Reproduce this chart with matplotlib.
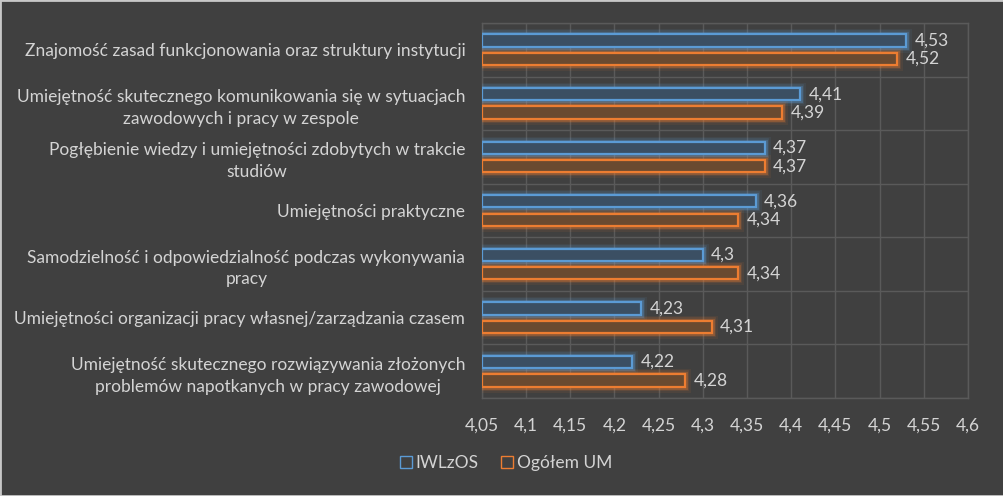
import numpy as np
import matplotlib.pyplot as plt
import matplotlib.patheffects as pe
from matplotlib.patches import Rectangle
from matplotlib.lines import Line2D

plt.rcParams['font.family'] = ['Lato', 'DejaVu Sans']

# data (top to bottom as in the reference)
categories = [
    "Znajomość zasad funkcjonowania oraz struktury instytucji",
    "Umiejętność skutecznego komunikowania się w sytuacjach\nzawodowych i pracy w zespole",
    "Pogłębienie wiedzy i umiejętności zdobytych w trakcie\nstudiów",
    "Umiejętności praktyczne",
    "Samodzielność i odpowiedzialność podczas wykonywania\npracy",
    "Umiejętności organizacji pracy własnej/zarządzania czasem",
    "Umiejętność skutecznego rozwiązywania złożonych\nproblemów napotkanych w pracy zawodowej",
]
iwlzos = [4.53, 4.41, 4.37, 4.36, 4.30, 4.23, 4.22]
ogolem = [4.52, 4.39, 4.37, 4.34, 4.34, 4.31, 4.28]
series_names = ["IWLzOS", "Ogółem UM"]
xticks = [4.05, 4.1, 4.15, 4.2, 4.25, 4.3, 4.35, 4.4, 4.45, 4.5, 4.55, 4.6]

bg = '#404040'
grid_c = '#5a5a5a'
txt_c = '#d4d4d4'
blue, blue_fill = '#5b9bd5', '#3b4f63'
orange, orange_fill = '#ed7d31', '#6a4a30'

fig = plt.figure(figsize=(10.04, 4.96), dpi=100, facecolor=bg)
ax = fig.add_axes([0.480, 0.1976, 0.484, 0.756], facecolor=bg)

n = len(categories)
y = np.arange(n)
h = 0.23
off = 0.172
x0 = 4.05


def glow(color):
    return [pe.Stroke(linewidth=8, foreground=color, alpha=0.08),
            pe.Stroke(linewidth=5.5, foreground=color, alpha=0.15),
            pe.Stroke(linewidth=3.5, foreground=color, alpha=0.30),
            pe.Normal()]


for vals, dy, ec, fc in [(iwlzos, -off, blue, blue_fill), (ogolem, off, orange, orange_fill)]:
    bars = ax.barh(y + dy, np.array(vals) - x0, left=x0, height=h,
                   facecolor=fc, edgecolor=ec, linewidth=1.6, zorder=3)
    for b, v in zip(bars, vals):
        b.set_path_effects(glow(ec))
        lbl = ('%g' % v).replace('.', ',')
        ax.annotate(lbl, (v, b.get_y() + b.get_height() / 2), xytext=(6, 0),
                    textcoords='offset points', va='center', ha='left',
                    color=txt_c, fontsize=12.5, zorder=4)

ax.set_xlim(4.05, 4.6)
ax.set_ylim(n - 0.5, -0.5)
ax.set_xticks(xticks)
ax.set_xticklabels([('%g' % t).replace('.', ',') for t in xticks], color=txt_c, fontsize=12.5)
ax.set_yticks(y)
ax.set_yticklabels(categories, color=txt_c, fontsize=12.5, multialignment='center',
                   linespacing=1.45)
ax.set_yticks(np.arange(n + 1) - 0.5, minor=True)
ax.tick_params(axis='both', which='both', length=0)
ax.tick_params(axis='x', pad=14)
ax.tick_params(axis='y', pad=12)
ax.grid(axis='x', which='major', color=grid_c, linewidth=1, zorder=0)
ax.grid(axis='y', which='minor', color=grid_c, linewidth=1, zorder=0)
for s in ax.spines.values():
    s.set_color(grid_c)
    s.set_linewidth(1)

handles = [Line2D([], [], marker='s', linestyle='none', markersize=8,
                  markerfacecolor='none', markeredgecolor=c, markeredgewidth=1)
           for c in (blue, orange)]
fig.legend(handles, series_names, loc='center', bbox_to_anchor=(0.503, 0.066),
           ncol=2, frameon=False, fontsize=12.5, labelcolor=txt_c,
           handletextpad=0.1, columnspacing=1.2, handlelength=0.9)

fig.patches.append(Rectangle((0, 0), 1, 1, transform=fig.transFigure,
                             fill=False, edgecolor='#c8c8c8', linewidth=2))

fig.savefig('out.png', dpi=100, facecolor=bg)
